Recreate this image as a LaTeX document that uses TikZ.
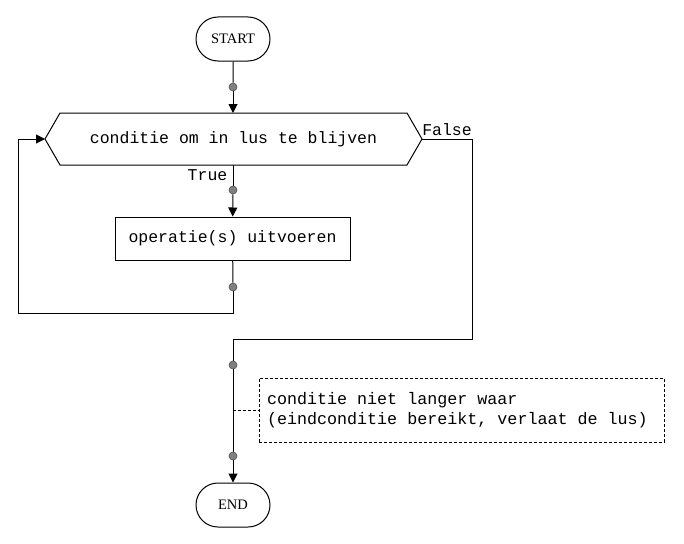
\documentclass[tikz,border=0pt]{standalone}
\usepackage{fontspec}
\setmainfont{Liberation Serif}
\setmonofont{Liberation Mono}[WordSpace={1,0,0},PunctuationSpace=WordSpace]
\usetikzlibrary{arrows.meta,shapes.misc}
\definecolor{dotfill}{RGB}{128,128,128}
\definecolor{dotline}{RGB}{80,80,80}
\tikzset{
  line/.style={draw=black, line width=1pt},
  arr/.style={line, -{Triangle[length=9pt,width=9pt]}},
  term/.style={rounded rectangle, draw, line width=1pt, minimum width=74pt,
    minimum height=44pt, inner sep=0pt, font=\fontsize{14.5}{16}\selectfont},
  mono/.style={font=\ttfamily\fontsize{16.5}{20}\selectfont, inner sep=0pt},
  procbox/.style={rectangle, draw, line width=1pt, minimum width=235pt,
    minimum height=43pt, inner sep=0pt, mono},
  dot/.style={circle, fill=dotfill, draw=dotline, line width=0.6pt,
    minimum size=8pt, inner sep=0pt},
  note/.style={rectangle, draw, dashed, dash pattern=on 3pt off 2pt, line width=1pt,
    minimum width=405pt, minimum height=64pt, text width=389pt, inner xsep=8pt,
    align=left, font=\ttfamily\fontsize{16.7}{20}\selectfont\frenchspacing},
  dashline/.style={draw, line width=1pt, dash pattern=on 3pt off 2pt}
}
\begin{document}
\begin{tikzpicture}[x=1pt,y=-1pt]
\useasboundingbox (0,0) rectangle (684,543);
% start
\node[term] (start) at (233,39) {START};
\node[dot] (d1) at (233,87) {};
\draw[line] (start) -- (d1);
% hexagon
\node[mono] (cond) at (233.5,139) {conditie om in lus te blijven};
\coordinate (hl) at (45,139);
\coordinate (hr) at (422,139);
\coordinate (ht) at (233,113);
\coordinate (hb) at (233,165);
\draw[line] (hl) -- (60,113) -- (407,113) -- (hr) -- (407,165) -- (60,165) -- cycle;
\draw[arr] (d1) -- (ht);
% true branch
\node[mono] (truelbl) at (207.5,175) {True};
\node[dot] (d2) at (233,190) {};
\draw[line] (hb) -- (d2);
\node[procbox] (op) at (232.5,238.5) {operatie(s) uitvoeren};
\draw[arr] (d2) -- (op);
\node[dot] (d3) at (233,287) {};
\draw[line] (op) -- (d3);
\draw[arr] (d3) -- (233,313) -| (18,139) -- (hl);
% false branch
\node[mono] (falselbl) at (447,130) {False};
\node[dot] (d4) at (233,365) {};
\draw[line] (hr) -- (472,139) -- (472,339) -- (233,339) -- (d4);
\node[dot] (d5) at (233,456) {};
\draw[line] (d4) -- (d5);
% note
\node[note] (note) at (461.5,410) {\spaceskip=0pt\xspaceskip=0pt\relax conditie niet langer waar\\(eindconditie bereikt, verlaat de lus)};
\coordinate (tap) at (233,410);
\draw[dashline] (tap) -- (note.west);
% end
\node[term] (end) at (233,505) {END};
\draw[arr] (d5) -- (end);
\end{tikzpicture}
\end{document}
